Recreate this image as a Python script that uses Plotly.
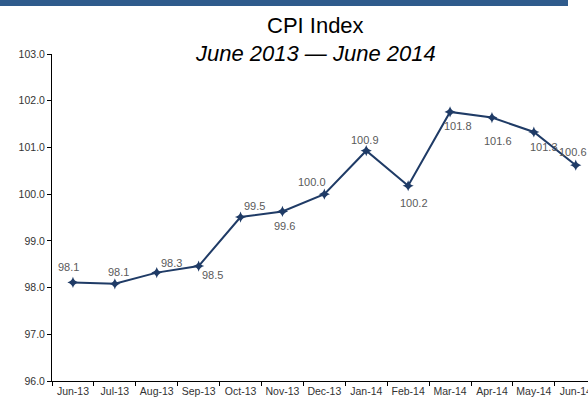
import plotly.graph_objects as go

months = ["Jun-13", "Jul-13", "Aug-13", "Sep-13", "Oct-13", "Nov-13", "Dec-13",
          "Jan-14", "Feb-14", "Mar-14", "Apr-14", "May-14", "Jun-14"]
cpi = [98.11, 98.08, 98.32, 98.46, 99.51, 99.63, 100.0,
       100.93, 100.18, 101.76, 101.64, 101.33, 100.62]
cpi_labels = ["98.1", "98.1", "98.3", "98.5", "99.5", "99.6", "100.0",
              "100.9", "100.2", "101.8", "101.6", "101.3", "100.6"]
y_ticks = [96, 97, 98, 99, 100, 101, 102, 103]

title_text = "CPI Index"
subtitle_text = "<i>June 2013 \u2014 June 2014</i>"

# label placement (pixel offsets from each point)
label_shift = [(-4, 15), (4, 12), (15, 10), (14, -9), (14, 11), (2, -15), (-12, 12),
               (-1, 11), (6, -17), (8, -14), (6, -23), (10, -15), (-3, 13)]

FONT = "Liberation Sans, Arial, Helvetica, sans-serif"
W, H = 588, 401
ML, MT, MB, MR = 52, 54, 20, 0
PW = W - ML - MR
PH = H - MT - MB
step = 41.9
xmax = -0.5 + PW / step

fig = go.Figure()
fig.add_trace(go.Scatter(
    x=months, y=cpi, mode="lines+markers",
    line=dict(color="#1f3b66", width=2),
    marker=dict(symbol="star-diamond", size=8, color="#1f3b66"),
    hoverinfo="x+y", showlegend=False,
))

annotations = []
for m, v, t, (dx, dy) in zip(months, cpi, cpi_labels, label_shift):
    annotations.append(dict(
        x=m, y=v, xref="x", yref="y", text=t, showarrow=False,
        xanchor="center", yanchor="middle", xshift=dx, yshift=dy,
        font=dict(family=FONT, size=11, color="#5a5a5a"),
    ))

def py(px_from_top):
    return 1 + (MT - px_from_top) / PH

def pxx(px):
    return (px - ML) / PW

annotations.append(dict(
    x=pxx(315.5), y=py(26), xref="paper", yref="paper", text=title_text,
    showarrow=False, xanchor="center", yanchor="middle",
    font=dict(family=FONT, size=22, color="#000000"),
))
annotations.append(dict(
    x=pxx(315.5), y=py(53.5), xref="paper", yref="paper", text=subtitle_text,
    showarrow=False, xanchor="center", yanchor="middle",
    font=dict(family=FONT, size=22, color="#000000"),
))

fig.update_layout(
    width=W, height=H,
    margin=dict(l=ML, r=MR, t=MT, b=MB, pad=0, autoexpand=False),
    paper_bgcolor="white", plot_bgcolor="white",
    font=dict(family=FONT, size=11, color="#333333"),
    annotations=annotations,
    shapes=[dict(type="rect", xref="paper", yref="paper",
                 x0=pxx(0), x1=pxx(568), y0=py(6), y1=py(0),
                 fillcolor="#2f5b8c", line=dict(width=0), layer="above")],
    xaxis=dict(
        type="category", range=[-0.5, xmax], automargin=False,
        showline=True, linecolor="#000000", linewidth=1,
        ticks="outside", ticklen=4, tickcolor="#000000", tickson="boundaries",
        showgrid=False, zeroline=False, tickangle=0,
        tickfont=dict(family=FONT, size=10.5, color="#333333"),
    ),
    yaxis=dict(
        range=[96, 103], tickvals=y_ticks, tickformat=".1f", automargin=False,
        showline=True, linecolor="#000000", linewidth=1,
        ticks="outside", ticklen=4, tickcolor="#000000",
        showgrid=False, zeroline=False,
        tickfont=dict(family=FONT, size=10.5, color="#333333"),
    ),
)

fig.write_html("out.html", config={"displayModeBar": False},
               post_script="document.body.style.margin='0';document.body.style.overflow='hidden';")
